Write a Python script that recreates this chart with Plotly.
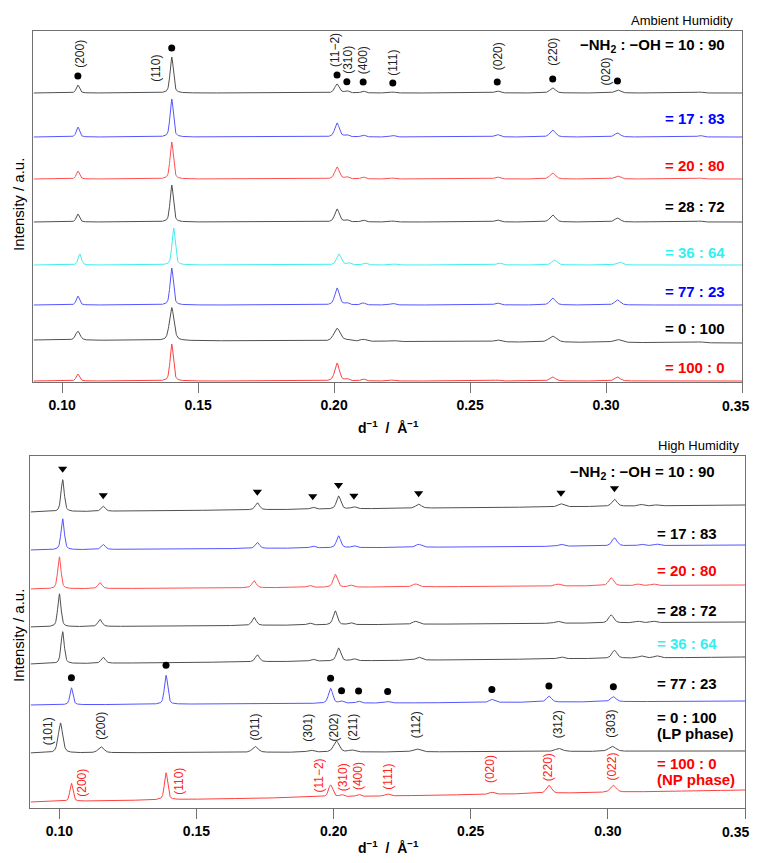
import numpy as np
import plotly.graph_objects as go

# ------------------------------------------------------------------ data
TICK_VALS = [0.10, 0.15, 0.20, 0.25, 0.30, 0.35]
TICK_TEXT = ["0.10", "0.15", "0.20", "0.25", "0.30", "0.35"]
X_MIN, X_MAX = 0.0893, 0.35

# ---- Ambient humidity panel
AMB_LABELS = ["−NH<sub>2</sub> : −OH = 10 : 90", "= 17 : 83", "= 20 : 80", "= 28 : 72",
              "= 36 : 64", "= 77 : 23", "= 0 : 100", "= 100 : 0"]
AMB_LINE_COLORS = ["#505050", "#5555ff", "#ff5050", "#505050", "#40eeee", "#5555ff", "#505050", "#ff4040"]
AMB_TEXT_COLORS = ["#000000", "#0000ff", "#ff0000", "#000000", "#33f0f0", "#0000ff", "#000000", "#ff0000"]
AMB_POS = [0.1058, 0.1403, 0.2011, 0.2047, 0.2107, 0.2216, 0.2600, 0.2804, 0.3042, 0.3346]
AMB_WID = [0.0014, 0.0014, 0.0020, 0.0018, 0.0018, 0.0020, 0.0022, 0.0024, 0.0024, 0.0020]
AMB_HEIGHTS = [
    [8, 36, 9, 2, 2, 1, 2, 5, 3, 1],
    [10, 38, 14, 2, 2, 1.5, 2.5, 7, 4, 1.5],
    [8, 37, 12, 2, 2, 1, 2, 6, 3, 1],
    [8, 37, 13, 2, 2, 1, 2, 7, 4, 1],
    [11, 37, 11, 2, 2, 1, 2, 5, 3, 0.5],
    [9, 37, 17, 2, 2, 1.5, 2, 7, 5, 0.5],
    [9, 33, 13, 1, 2, 1, 2, 6, 3, 1],
    [7, 37, 18, 2, 2, 1, 1, 4, 4, 0.5],
]
AMB_SHIFT = [0, 0, 0, 0, 0.0007, 0, 0, 0]
AMB_BROAD = [1, 1, 1, 1, 1, 1, 1.4, 1]
AMB_BASE_LEFT = [289, 245, 203, 160, 117, 77, 42, 1]
AMB_BASE_RIGHT = [289, 245, 203, 160, 117, 77, 39, 1]
AMB_HKL = ["(200)", "(110)", "(11−2)", "(310)", "(400)", "(111)", "(020)", "(220)", "(020)"]

# ---- High humidity panel
HH_LABELS = ["−NH<sub>2</sub> : −OH = 10 : 90", "= 17 : 83", "= 20 : 80", "= 28 : 72",
             "= 36 : 64", "= 77 : 23", "= 0 : 100", "= 100 : 0"]
HH_SUBLABELS = ["", "", "", "", "", "", "(LP phase)", "(NP phase)"]
HH_LINE_COLORS = ["#505050", "#5555ff", "#ff5050", "#505050", "#505050", "#5555ff", "#505050", "#ff4040"]
HH_TEXT_COLORS = ["#000000", "#000000", "#ff0000", "#000000", "#33f0f0", "#000000", "#000000", "#ff0000"]
HH_PHASE = ["LP", "LP", "LP", "LP", "LP", "NP", "LP", "NP"]
LP_POS = [0.1012, 0.1160, 0.1722, 0.1924, 0.2018, 0.2074, 0.2310, 0.2829, 0.3024, 0.3122, 0.3178]
LP_WID = [0.0014, 0.0018, 0.0018, 0.0020, 0.0018, 0.0020, 0.0024, 0.0024, 0.0022, 0.0022, 0.0022]
NP_POS = [0.1044, 0.1389, 0.1989, 0.2029, 0.2091, 0.2197, 0.2577, 0.2785, 0.3020]
NP_WID = [0.0013, 0.0014, 0.0018, 0.0018, 0.0018, 0.0020, 0.0022, 0.0022, 0.0024]
HH_HEIGHTS = [
    [32, 5, 7, 2, 13, 2, 4, 3, 7, 1.5, 1],
    [31, 5, 6, 2, 12, 2, 3, 2, 8, 1.5, 1.5],
    [32, 6, 7, 2, 13, 2, 3, 2, 8, 1.5, 1.5],
    [33, 7, 8, 2, 14, 2, 3, 2, 8, 1.5, 1.5],
    [32, 6, 7, 2, 13, 2, 3, 2, 8, 2, 2],
    [17, 29, 15, 2, 2, 1.5, 3, 6, 5],
    [30, 6, 6, 2, 11, 2, 3, 3, 5, 0.5, 0.5],
    [18, 27, 12, 2, 2, 2, 2, 8, 7],
]
HH_SHIFT = [0, 0, -0.0012, -0.0012, 0, 0, -0.0008, 0]
HH_BROAD = [1, 1, 1, 1, 1, 1, 1.35, 1]
HH_BASE_LEFT = [296, 258, 219, 181, 144, 103, 55, 6]
HH_BASE_RIGHT = [303, 263, 223, 186, 151, 107, 57, 18]
LP_HKL = ["(101)", "(200)", "(011)", "(301)", "(202)", "(211)", "(112)", "(312)", "(303)"]
NP_HKL = ["(200)", "(110)", "(11−2)", "(310)", "(400)", "(111)", "(020)", "(220)", "(022)"]

# ------------------------------------------------------------------ layout helpers (page pixels)
OFF = 8                      # default page margin around the figure
FW, FH = 743, 847            # figure size that fits the 759x863 window
TOP_BOX = (33, 742, 31, 382)      # left, right, top, bottom (page px)
BOT_BOX = (30, 745, 456, 808)
FONT = "Liberation Sans"
TICK_FONT = dict(family=FONT, size=14, color="black", weight="bold")

AMB_HKL_DX = [2, -16, -2, 1, 0, 0, 1, 0, -11]
AMB_HKL_DY = [39, 25, 43, 33, 33, 30, 37, 41, 22]
LP_HKL_DX = [-13, 0, 0, -2, -2, 1, -1, -1, -1]
LP_HKL_DY = [22, 27, 25, 24, 25, 25, 27, 27, 28]
NP_HKL_DX = [11, 13, -12, 1, 0, 0, -2, -1, -1]
NP_HKL_DY = [19, 18, 21, 19, 20, 19, 25, 26, 26]
AMB_LABEL_Y = [45, 118, 165, 207, 253, 292, 328, 367]
HH_LABEL_Y = [472, 533, 570, 610, 643, 683, 717, 763]


def px(xp, yp):
    return (xp - OFF) / FW, 1 - (yp - OFF) / FH


x = np.linspace(X_MIN + 0.0003, X_MAX, 2600)


def profile(pos, wid, hts, shift, broad):
    y = np.zeros_like(x)
    for p, w, h in zip(pos, wid, hts):
        d = (x - p - shift) / (w * broad / 2)
        y += h * (0.5 / (1 + d * d) + 0.5 * np.exp(-np.log(2) * d * d))
    return y


def baseline(left, right):
    return left + (right - left) * (x - x[0]) / (x[-1] - x[0])


fig = go.Figure()
annotations = []

# ------------------------------------------------------------------ top panel
amb_curves = []
for i in range(len(AMB_LABELS)):
    yv = baseline(AMB_BASE_LEFT[i], AMB_BASE_RIGHT[i]) + profile(
        AMB_POS, AMB_WID, AMB_HEIGHTS[i], AMB_SHIFT[i], AMB_BROAD[i])
    amb_curves.append(yv)
    fig.add_trace(go.Scatter(x=x, y=yv, mode="lines", xaxis="x", yaxis="y",
                             line=dict(color=AMB_LINE_COLORS[i], width=1), hoverinfo="skip"))

dot_x = AMB_POS[:9]
dot_y = [np.interp(p, x, amb_curves[0]) + 9 for p in dot_x]
fig.add_trace(go.Scatter(x=dot_x, y=dot_y, mode="markers", xaxis="x", yaxis="y",
                         marker=dict(symbol="circle", size=7, color="black"), hoverinfo="skip"))
for k, lab in enumerate(AMB_HKL):
    b = np.interp(AMB_POS[k], x, baseline(AMB_BASE_LEFT[0], AMB_BASE_RIGHT[0]))
    annotations.append(dict(x=AMB_POS[k], y=b + AMB_HKL_DY[k], xref="x", yref="y",
                            text=lab, showarrow=False, textangle=-90, xshift=AMB_HKL_DX[k],
                            xanchor="center", yanchor="middle",
                            font=dict(family=FONT, size=12, color="#222222")))

for i, lab in enumerate(AMB_LABELS):
    if i == 0:
        xp, anchor = px(727, AMB_LABEL_Y[i]), "right"
    else:
        xp, anchor = px(663, AMB_LABEL_Y[i]), "left"
    annotations.append(dict(x=xp[0], y=xp[1], xref="paper", yref="paper", text="<b>" + lab + "</b>",
                            showarrow=False, xanchor=anchor, yanchor="middle",
                            font=dict(family=FONT, size=15, color=AMB_TEXT_COLORS[i])))

# ------------------------------------------------------------------ bottom panel
hh_curves = []
for i in range(len(HH_LABELS)):
    if HH_PHASE[i] == "LP":
        pos, wid = LP_POS, LP_WID
    else:
        pos, wid = NP_POS, NP_WID
    yv = baseline(HH_BASE_LEFT[i], HH_BASE_RIGHT[i]) + profile(
        pos, wid, HH_HEIGHTS[i], HH_SHIFT[i], HH_BROAD[i])
    hh_curves.append(yv)
    fig.add_trace(go.Scatter(x=x, y=yv, mode="lines", xaxis="x2", yaxis="y2",
                             line=dict(color=HH_LINE_COLORS[i], width=1), hoverinfo="skip"))

tri_x = LP_POS[:9]
tri_y = [np.interp(p, x, hh_curves[0]) + 11 for p in tri_x]
fig.add_trace(go.Scatter(x=tri_x, y=tri_y, mode="markers", xaxis="x2", yaxis="y2",
                         marker=dict(symbol="triangle-down", size=8, color="black"), hoverinfo="skip"))
np_dot_x = NP_POS
np_dot_y = [np.interp(p, x, hh_curves[5]) + 10 for p in np_dot_x]
fig.add_trace(go.Scatter(x=np_dot_x, y=np_dot_y, mode="markers", xaxis="x2", yaxis="y2",
                         marker=dict(symbol="circle", size=7, color="black"), hoverinfo="skip"))

for k, lab in enumerate(LP_HKL):
    p = LP_POS[k] + HH_SHIFT[6]
    b = np.interp(p, x, baseline(HH_BASE_LEFT[6], HH_BASE_RIGHT[6]))
    annotations.append(dict(x=p, y=b + LP_HKL_DY[k], xref="x2", yref="y2",
                            text=lab, showarrow=False, textangle=-90, xshift=LP_HKL_DX[k],
                            xanchor="center", yanchor="middle",
                            font=dict(family=FONT, size=12, color="#222222")))
for k, lab in enumerate(NP_HKL):
    p = NP_POS[k]
    b = np.interp(p, x, baseline(HH_BASE_LEFT[7], HH_BASE_RIGHT[7]))
    annotations.append(dict(x=p, y=b + NP_HKL_DY[k], xref="x2", yref="y2",
                            text=lab, showarrow=False, textangle=-90, xshift=NP_HKL_DX[k],
                            xanchor="center", yanchor="middle",
                            font=dict(family=FONT, size=12, color="#ff2020")))

for i, lab in enumerate(HH_LABELS):
    if i == 0:
        xp, anchor = px(717, HH_LABEL_Y[i]), "right"
    else:
        xp, anchor = px(655, HH_LABEL_Y[i]), "left"
    annotations.append(dict(x=xp[0], y=xp[1], xref="paper", yref="paper", text="<b>" + lab + "</b>",
                            showarrow=False, xanchor=anchor, yanchor="middle",
                            font=dict(family=FONT, size=15, color=HH_TEXT_COLORS[i])))
    if HH_SUBLABELS[i]:
        sp = px(655, HH_LABEL_Y[i] + 16)
        annotations.append(dict(x=sp[0], y=sp[1], xref="paper", yref="paper",
                                text="<b>" + HH_SUBLABELS[i] + "</b>", showarrow=False,
                                xanchor="left", yanchor="middle",
                                font=dict(family=FONT, size=15, color=HH_TEXT_COLORS[i])))

# ------------------------------------------------------------------ titles
for txt, (xp_, yp_) in [("Ambient Humidity", (735, 21)), ("High Humidity", (741, 445))]:
    pp = px(xp_, yp_)
    annotations.append(dict(x=pp[0], y=pp[1], xref="paper", yref="paper", text=txt,
                            showarrow=False, xanchor="right", yanchor="middle",
                            font=dict(family=FONT, size=13, color="black")))
for yp_ in [205, 636]:
    pp = px(18, yp_)
    annotations.append(dict(x=pp[0], y=pp[1], xref="paper", yref="paper", text="Intensity / a.u.",
                            showarrow=False, textangle=-90, xanchor="center", yanchor="middle",
                            font=dict(family=FONT, size=15, color="black")))
for yp_ in [427, 847]:
    pp = px(388, yp_)
    annotations.append(dict(x=pp[0], y=pp[1], xref="paper", yref="paper",
                            text="<b>d<sup>−1</sup>  /  Å<sup>−1</sup></b>",
                            showarrow=False, xanchor="center", yanchor="middle",
                            font=dict(family=FONT, size=14, color="black")))
# the last tick label sits at the window edge: draw it inside the figure
for yp_ in [406, 832]:
    pp = px(OFF + FW, yp_)
    annotations.append(dict(x=1.0, y=pp[1], xref="paper", yref="paper", text=TICK_TEXT[-1],
                            showarrow=False, xanchor="right", yanchor="middle", font=TICK_FONT))

SHOWN_TEXT = TICK_TEXT[:-1] + [""]


def xaxis_style(box, anchor):
    return dict(domain=[(box[0] - OFF) / FW, (box[1] - OFF) / FW], anchor=anchor, range=[X_MIN, X_MAX],
                tickvals=TICK_VALS, ticktext=SHOWN_TEXT, ticks="outside", ticklen=10,
                tickcolor="#707070", tickwidth=1, showline=True, mirror=True,
                linecolor="#707070", linewidth=1, showgrid=False, zeroline=False,
                tickfont=TICK_FONT)


def yaxis_style(box, anchor):
    return dict(domain=[1 - (box[3] - OFF) / FH, 1 - (box[2] - OFF) / FH], anchor=anchor,
                range=[0, box[3] - box[2]], showline=True, mirror=True, linecolor="#707070",
                linewidth=1, showticklabels=False, ticks="", showgrid=False, zeroline=False)


fig.update_layout(
    width=FW, height=FH, margin=dict(l=0, r=0, t=0, b=0),
    paper_bgcolor="white", plot_bgcolor="white", showlegend=False,
    xaxis=xaxis_style(TOP_BOX, "y"), yaxis=yaxis_style(TOP_BOX, "x"),
    xaxis2=xaxis_style(BOT_BOX, "y2"), yaxis2=yaxis_style(BOT_BOX, "x2"),
    annotations=annotations,
)

fig.write_html("out.html")
